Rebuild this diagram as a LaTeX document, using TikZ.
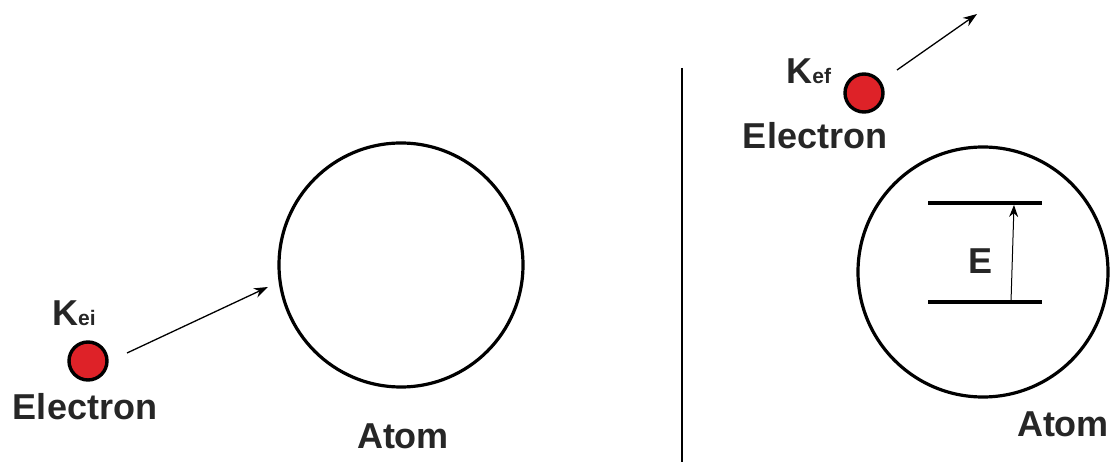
\documentclass[tikz,border=0pt]{standalone}
\usepackage{fontspec}
\setmainfont{Liberation Sans}
\usetikzlibrary{arrows.meta, positioning}

\definecolor{elred}{RGB}{222,34,40}
\tikzset{
  electron/.style={circle, draw, line width=3.4pt, fill=elred, minimum size=38pt, inner sep=0pt},
  atom/.style={circle, draw, line width=3.2pt, inner sep=0pt},
  lbl/.style={font=\fontsize{36}{36}\selectfont\bfseries, inner sep=0pt, text=black!85},
  move/.style={line width=1.3pt, -{Stealth[length=14pt, width=10pt]}},
  level/.style={line width=3.4pt}
}
\newcommand{\kin}[1]{K{\fontsize{21}{21}\selectfont #1}}

\begin{document}
\begin{tikzpicture}[x=1pt, y=-1pt]
    \useasboundingbox (0,0) rectangle (1112,462);
    % before
    \node[electron] (e1) at (88,361) {};
    \node[lbl] (k1) [above=14pt of e1, xshift=-14pt] {\kin{ei}};
    \node[lbl] (n1) [below=12pt of e1, xshift=-3pt] {Electron};
    \node[atom, minimum size=244pt] (a1) at (401,265) {};
    \node[lbl] (t1) at (403,436) {Atom};
    \coordinate (s1) at (127,353);
    \coordinate (f1) at (268,287);
    \draw[move] (s1) -- (f1);

    % divider
    \coordinate (d1) at (682,68);
    \coordinate (d2) at (682,462);
    \draw[line width=2.8pt] (d1) -- (d2);

    % after
    \node[electron] (e2) at (864,93) {};
    \node[lbl] (k2) [above left=-6pt and 18pt of e2] {\kin{ef}};
    \node[lbl] (n2) [below=9pt of e2, xshift=-49pt] {Electron};
    \node[atom, minimum size=250pt] (a2) at (983,272) {};
    \node[lbl] (t2) at (1063,424) {Atom};
    \coordinate (s2) at (897,70);
    \coordinate (f2) at (977,14);
    \draw[move] (s2) -- (f2);

    % energy levels
    \coordinate (u1) at (928,203);
    \coordinate (u2) at (1042,203);
    \coordinate (b1) at (928,302);
    \coordinate (b2) at (1042,302);
    \draw[level] (u1) -- (u2);
    \draw[level] (b1) -- (b2);
    \coordinate (g1) at (1011,302);
    \coordinate (g2) at (1014,205);
    \draw[line width=1pt, -{Stealth[length=12pt, width=9pt]}] (g1) -- (g2);
    \node[lbl] (en) at (980,261) {E};
\end{tikzpicture}
\end{document}
